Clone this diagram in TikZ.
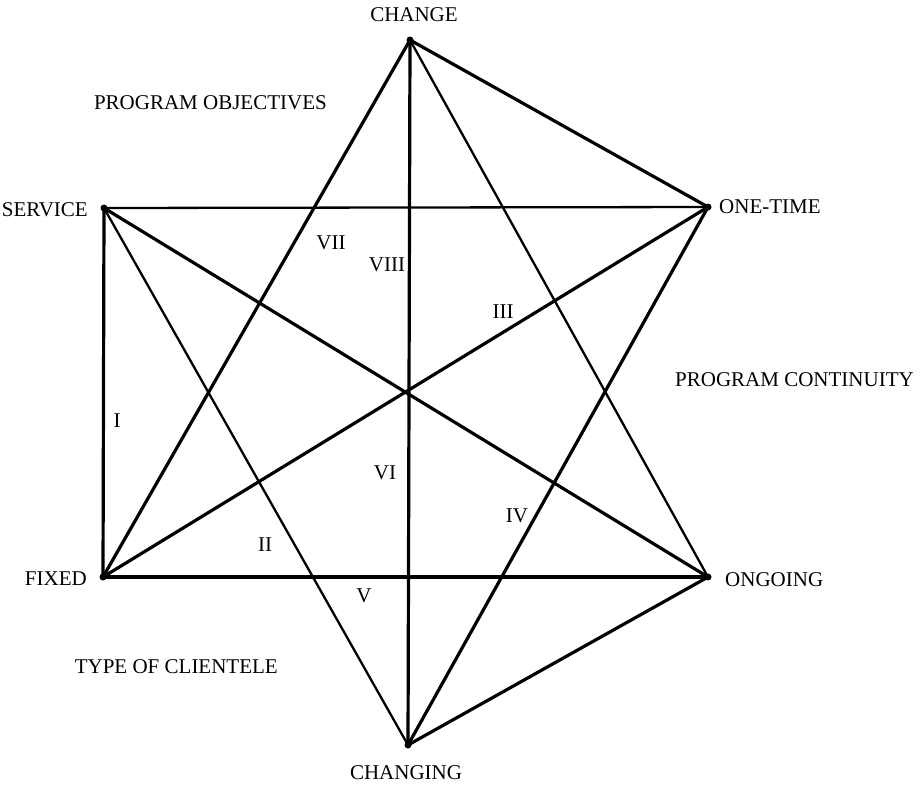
\documentclass[tikz,border=0pt]{standalone}
\usepackage{fontspec}
\setmainfont{Liberation Serif}
\begin{document}
\begin{tikzpicture}[x=1pt,y=-1pt,
  vtx/.style={circle,fill=black,inner sep=0pt,minimum size=7pt},
  lbl/.style={font=\fontsize{21}{23}\selectfont,inner sep=0pt},
  thk/.style={line width=3.2pt,line cap=round,line join=round},
  thn/.style={line width=2.3pt,line cap=round}]
\useasboundingbox (0,0) rectangle (923,785);
\node[vtx] (ch) at (410,40) {};
\node[vtx] (sv) at (104,208) {};
\node[vtx] (ot) at (708,207) {};
\node[vtx] (fx) at (103,577) {};
\node[vtx] (og) at (708,577) {};
\node[vtx] (cg) at (408,745) {};
% lines
\draw[thk] (ch.center) -- (ot.center);
\draw[thk] (ch.center) -- (fx.center);
\draw[thk] (ch.center) -- (cg.center);
\draw[thn] (ch.center) -- (og.center);
\draw[thn] (sv.center) -- (ot.center);
\draw[thk] (sv.center) -- (fx.center);
\draw[thk] (sv.center) -- (og.center);
\draw[thn] (sv.center) -- (cg.center);
\draw[thk] (ot.center) -- (fx.center);
\draw[thk] (ot.center) -- (cg.center);
\draw[thk] (fx.center) -- (og.center);
\draw[thk] (og.center) -- (cg.center);
% vertex labels
\node[lbl] (tch) at (414,15) {CHANGE};
\node[lbl,anchor=east] (tsv) at (88,210) {SERVICE};
\node[lbl,anchor=west] (tot) at (719,207) {ONE-TIME};
\node[lbl,anchor=east] (tfx) at (87,579) {FIXED};
\node[lbl,anchor=west] (tog) at (725,580) {ONGOING};
\node[lbl] (tcg) at (406,773) {CHANGING};
% group labels
\node[lbl,anchor=east] (po) at (327,103) {PROGRAM OBJECTIVES};
\node[lbl,anchor=west] (pc) at (675,380) {PROGRAM CONTINUITY};
\node[lbl,anchor=east] (tc) at (278,667) {TYPE OF CLIENTELE};
% region numerals
\node[lbl] (r8) at (387,265) {VIII};
\node[lbl] (r7) at (331,243) {VII};
\node[lbl] (r3) at (503,312) {III};
\node[lbl] (r1) at (117,421) {I};
\node[lbl] (r6) at (385,473) {VI};
\node[lbl] (r2) at (265,545) {II};
\node[lbl] (r5) at (364,596) {V};
\node[lbl] (r4) at (517,516) {IV};
\end{tikzpicture}
\end{document}
